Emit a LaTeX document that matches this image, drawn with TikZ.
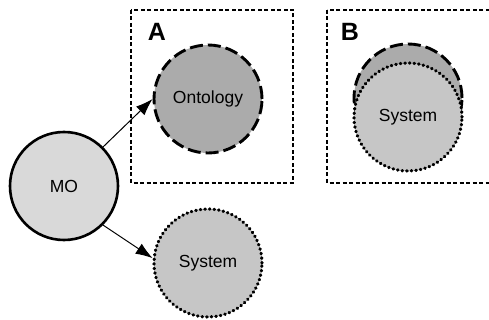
\documentclass[tikz,border=0pt]{standalone}
\usepackage{fontspec}
\setmainfont{Liberation Sans}
\usetikzlibrary{arrows.meta}
\definecolor{palefill}{HTML}{D9D9D9}
\definecolor{darkfill}{HTML}{ABABAB}
\definecolor{midfill}{HTML}{C6C6C6}
\begin{document}
\begin{tikzpicture}[x=1pt,y=-1pt,
  blob/.style={circle, minimum size=108pt, inner sep=0pt,
    font=\fontsize{17.5}{20}\selectfont},
  solidring/.style={draw, line width=2.6pt},
  dashring/.style={draw, line width=2.9pt, dash pattern=on 13pt off 5pt},
  dotring/.style={draw, line width=3.2pt, line cap=round, dash pattern=on 0.6pt off 4pt},
  frame/.style={draw, line width=1.1pt, dash pattern=on 4pt off 2.5pt},
  tag/.style={font=\bfseries\fontsize{25}{28}\selectfont, inner sep=0pt},
  link/.style={line width=1pt, -{Latex[length=17pt,width=12pt]}}]
\useasboundingbox (0,0) rectangle (489,320);

% framed panels
\draw[frame] (131,10) rectangle (293,183);
\draw[frame] (327,10) rectangle (492,183);
\node[tag] (tagA) at (157,32) {A};
\node[tag] (tagB) at (350,32) {B};

% panel A
\node[blob, dashring, fill=darkfill] (onto) at (208,99) {Ontology};

% panel B: system overlapping the ontology
\node[blob, dashring, fill=darkfill] (ontoB) at (408,98) {};
\node[blob, dotring, fill=midfill] (sysB) at (408,117) {System};

% left side
\node[blob, solidring, fill=palefill] (mo) at (64,186) {MO};
\node[blob, dotring, fill=midfill] (sys) at (208,263) {System};

\draw[link] (mo.45) -- (onto.west);
\draw[link] (mo.-45) -- (sys.175);
\end{tikzpicture}
\end{document}
